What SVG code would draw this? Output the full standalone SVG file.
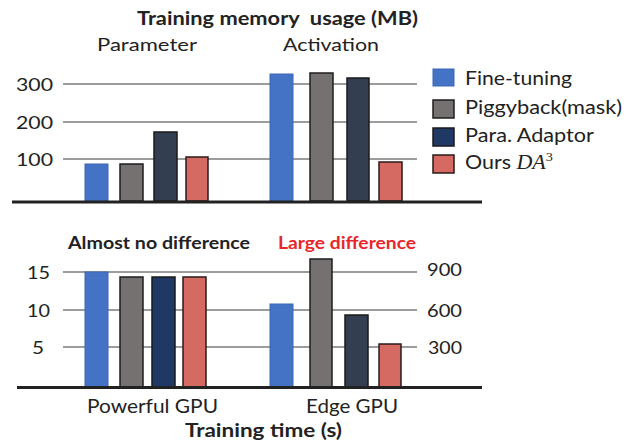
<svg xmlns="http://www.w3.org/2000/svg" width="631" height="445" viewBox="0 0 631 445">
  <style>
    .t { font-family: Lato, "Open Sans", "Liberation Sans", sans-serif; fill: #222; }
    .b { font-weight: bold; }
    .grid { stroke: #3a3a3a; stroke-width: 1.2; fill: none; }
    .base { stroke: #222; stroke-width: 3; fill: none; }
    .blue { fill: #4472C4; stroke: #3b66b3; stroke-width: 1; }
    .gray { fill: #767171; stroke: #1e1e1e; stroke-width: 1.5; }
    .navy { fill: #333F50; stroke: #1a1a1a; stroke-width: 1.5; }
    .navy2 { fill: #203864; stroke: #1a1a1a; stroke-width: 1.5; }
    .red { fill: #D46A62; stroke: #2a1a1a; stroke-width: 1.5; }
    .math { font-family: "Liberation Serif", "DejaVu Serif", serif; }
  </style>

  <!-- memory usage chart -->
  <g id="memory-chart">
    <text class="t b" x="137" y="25" font-size="18.5" textLength="281" lengthAdjust="spacingAndGlyphs" style="white-space:pre">Training memory  usage (MB)</text>
    <text class="t" x="97" y="51" font-size="17.5" textLength="100" lengthAdjust="spacingAndGlyphs">Parameter</text>
    <text class="t" x="283" y="51" font-size="17.5" textLength="96" lengthAdjust="spacingAndGlyphs">Activation</text>
    <g class="t" font-size="17.5">
      <text x="16" y="90.5" textLength="37" lengthAdjust="spacingAndGlyphs">300</text>
      <text x="16" y="128.5" textLength="37" lengthAdjust="spacingAndGlyphs">200</text>
      <text x="16" y="165.5" textLength="37" lengthAdjust="spacingAndGlyphs">100</text>
    </g>
    <path class="grid" d="M63 84H417M63 122H417M63 159H417"/>
    <rect class="blue" x="85" y="164" width="23" height="37"/>
    <rect class="gray" x="120" y="164" width="23" height="37"/>
    <rect class="navy" x="154" y="132" width="23" height="69"/>
    <rect class="red" x="186" y="157" width="22" height="44"/>
    <rect class="blue" x="270" y="74" width="23" height="127"/>
    <rect class="gray" x="310" y="73" width="23" height="128"/>
    <rect class="navy" x="347" y="78" width="22" height="123"/>
    <rect class="red" x="379" y="162" width="23" height="39"/>
    <path class="base" d="M12 202H482"/>
  </g>

  <!-- legend -->
  <g id="legend">
    <rect class="blue" x="433" y="69" width="21" height="17"/>
    <rect class="gray" x="433" y="100" width="21" height="18"/>
    <rect class="navy2" x="433" y="128" width="21" height="18"/>
    <rect class="red" x="433" y="155" width="21" height="18"/>
    <g class="t" font-size="19.5">
      <text x="465" y="85" textLength="107" lengthAdjust="spacingAndGlyphs">Fine-tuning</text>
      <text x="465" y="114" textLength="157" lengthAdjust="spacingAndGlyphs">Piggyback(mask)</text>
      <text x="465" y="142" textLength="129" lengthAdjust="spacingAndGlyphs">Para. Adaptor</text>
      <g transform="translate(465 169) scale(1.1 1)">
        <text x="0" y="0">Ours <tspan class="math" font-style="italic" font-size="20">DA</tspan><tspan class="math" font-size="13" dy="-8">3</tspan></text>
      </g>
    </g>
  </g>

  <!-- training time chart -->
  <g id="time-chart">
    <text class="t b" x="68" y="249" font-size="16.5" textLength="182" lengthAdjust="spacingAndGlyphs">Almost no difference</text>
    <text class="t b" x="278" y="249" font-size="16.5" textLength="138" lengthAdjust="spacingAndGlyphs" style="fill:#E8262B">Large difference</text>
    <g class="t" font-size="17.5">
      <text x="27" y="278.5" textLength="23" lengthAdjust="spacingAndGlyphs">15</text>
      <text x="27" y="316.5" textLength="23" lengthAdjust="spacingAndGlyphs">10</text>
      <text x="32" y="353.5" textLength="12" lengthAdjust="spacingAndGlyphs">5</text>
      <text x="427" y="275.5" textLength="35" lengthAdjust="spacingAndGlyphs">900</text>
      <text x="427" y="317" textLength="35" lengthAdjust="spacingAndGlyphs">600</text>
      <text x="428" y="353.5" textLength="34" lengthAdjust="spacingAndGlyphs">300</text>
    </g>
    <path class="grid" d="M63 272H417M63 310H417M63 347H417"/>
    <rect class="blue" x="85" y="272" width="23" height="115"/>
    <rect class="gray" x="120" y="277" width="23" height="110"/>
    <rect class="navy2" x="152" y="277" width="23" height="110"/>
    <rect class="red" x="183" y="277" width="23" height="110"/>
    <rect class="blue" x="270" y="304" width="23" height="83"/>
    <rect class="gray" x="310" y="259" width="22" height="128"/>
    <rect class="navy" x="345" y="315" width="23" height="72"/>
    <rect class="red" x="379" y="344" width="22" height="43"/>
    <path class="base" d="M17 387.5H482"/>
    <text class="t" x="87" y="413" font-size="19" textLength="131" lengthAdjust="spacingAndGlyphs">Powerful GPU</text>
    <text class="t" x="306" y="413" font-size="19" textLength="92" lengthAdjust="spacingAndGlyphs">Edge GPU</text>
    <text class="t b" x="185" y="437" font-size="19" textLength="157" lengthAdjust="spacingAndGlyphs">Training time (s)</text>
  </g>
</svg>
